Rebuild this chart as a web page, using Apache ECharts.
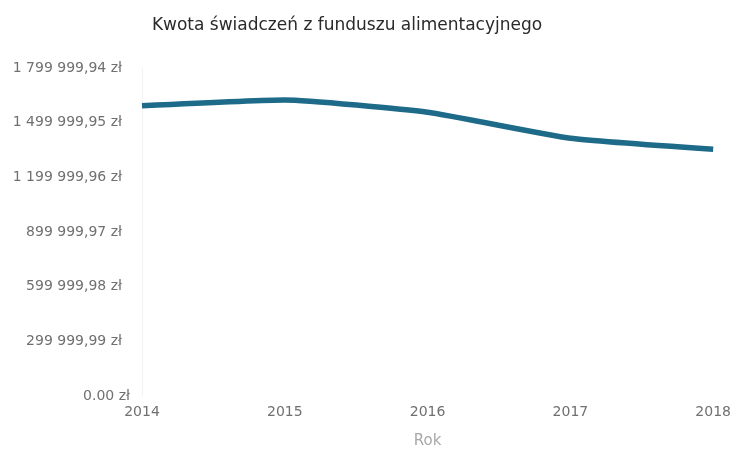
<!DOCTYPE html>
<html>
<head>
<meta charset="utf-8">
<script src="https://cdn.jsdelivr.net/npm/echarts@6/dist/echarts.min.js"></script>
<style>
  html, body { margin: 0; padding: 0; background: #fff; }
  #chart { width: 734px; height: 454px; }
</style>
</head>
<body>
<div id="chart"></div>
<script>
// Years on the x axis
const years = ['2014', '2015', '2016', '2017', '2018'];
// Benefit amounts paid from the alimony fund (PLN)
const amounts = [1593000, 1624400, 1556900, 1414200, 1353800];
// Y axis tick labels, bottom to top
const yTickLabels = ['0.00 zł', '299 999,99 zł', '599 999,98 zł', '899 999,97 zł',
                     '1 199 999,96 zł', '1 499 999,95 zł', '1 799 999,94 zł'];

const FONT = 'DejaVu Sans';
const LABEL_COLOR = '#707070';

const chart = echarts.init(document.getElementById('chart'));
chart.setOption({
  backgroundColor: '#ffffff',
  animation: false,
  title: {
    text: 'Kwota świadczeń z funduszu alimentacyjnego',
    left: 342,
    textAlign: 'center',
    top: 12,
    textStyle: { fontFamily: FONT, fontSize: 17, fontWeight: 'normal', color: '#2a2a2a' }
  },
  grid: { left: 142, right: 20, top: 68, bottom: 58 },
  xAxis: {
    type: 'category',
    data: years,
    boundaryGap: false,
    name: 'Rok',
    nameLocation: 'middle',
    nameGap: 38,
    nameTextStyle: { fontFamily: FONT, fontSize: 15, color: '#a8a8a8' },
    axisLine: { show: false },
    axisTick: { show: false },
    axisLabel: { fontFamily: FONT, fontSize: 14, color: LABEL_COLOR, margin: 9 }
  },
  yAxis: {
    type: 'value',
    min: 0,
    max: 1799999.94,
    interval: 299999.99,
    axisLine: { show: true, lineStyle: { color: '#f2f2f2', width: 1 } },
    axisTick: { show: false },
    splitLine: { show: false },
    axisLabel: {
      fontFamily: FONT, fontSize: 14, color: LABEL_COLOR, margin: 12,
      formatter: (v, i) => {
        const t = yTickLabels[i];
        if (t === undefined) return '';
        return i === 0 ? '{z|' + t + '}' : '{p|' + t + '}';
      },
      rich: {
        z: { fontFamily: FONT, fontSize: 14, color: LABEL_COLOR },
        p: { fontFamily: FONT, fontSize: 14, color: LABEL_COLOR, padding: [0, 8, 0, 0] }
      }
    }
  },
  series: [{
    type: 'line',
    data: amounts,
    symbol: 'none',
    smooth: 0.15,
    lineStyle: { color: '#1d6a89', width: 5.5 },
    itemStyle: { color: '#1d6a89' }
  }]
});
</script>
</body>
</html>
